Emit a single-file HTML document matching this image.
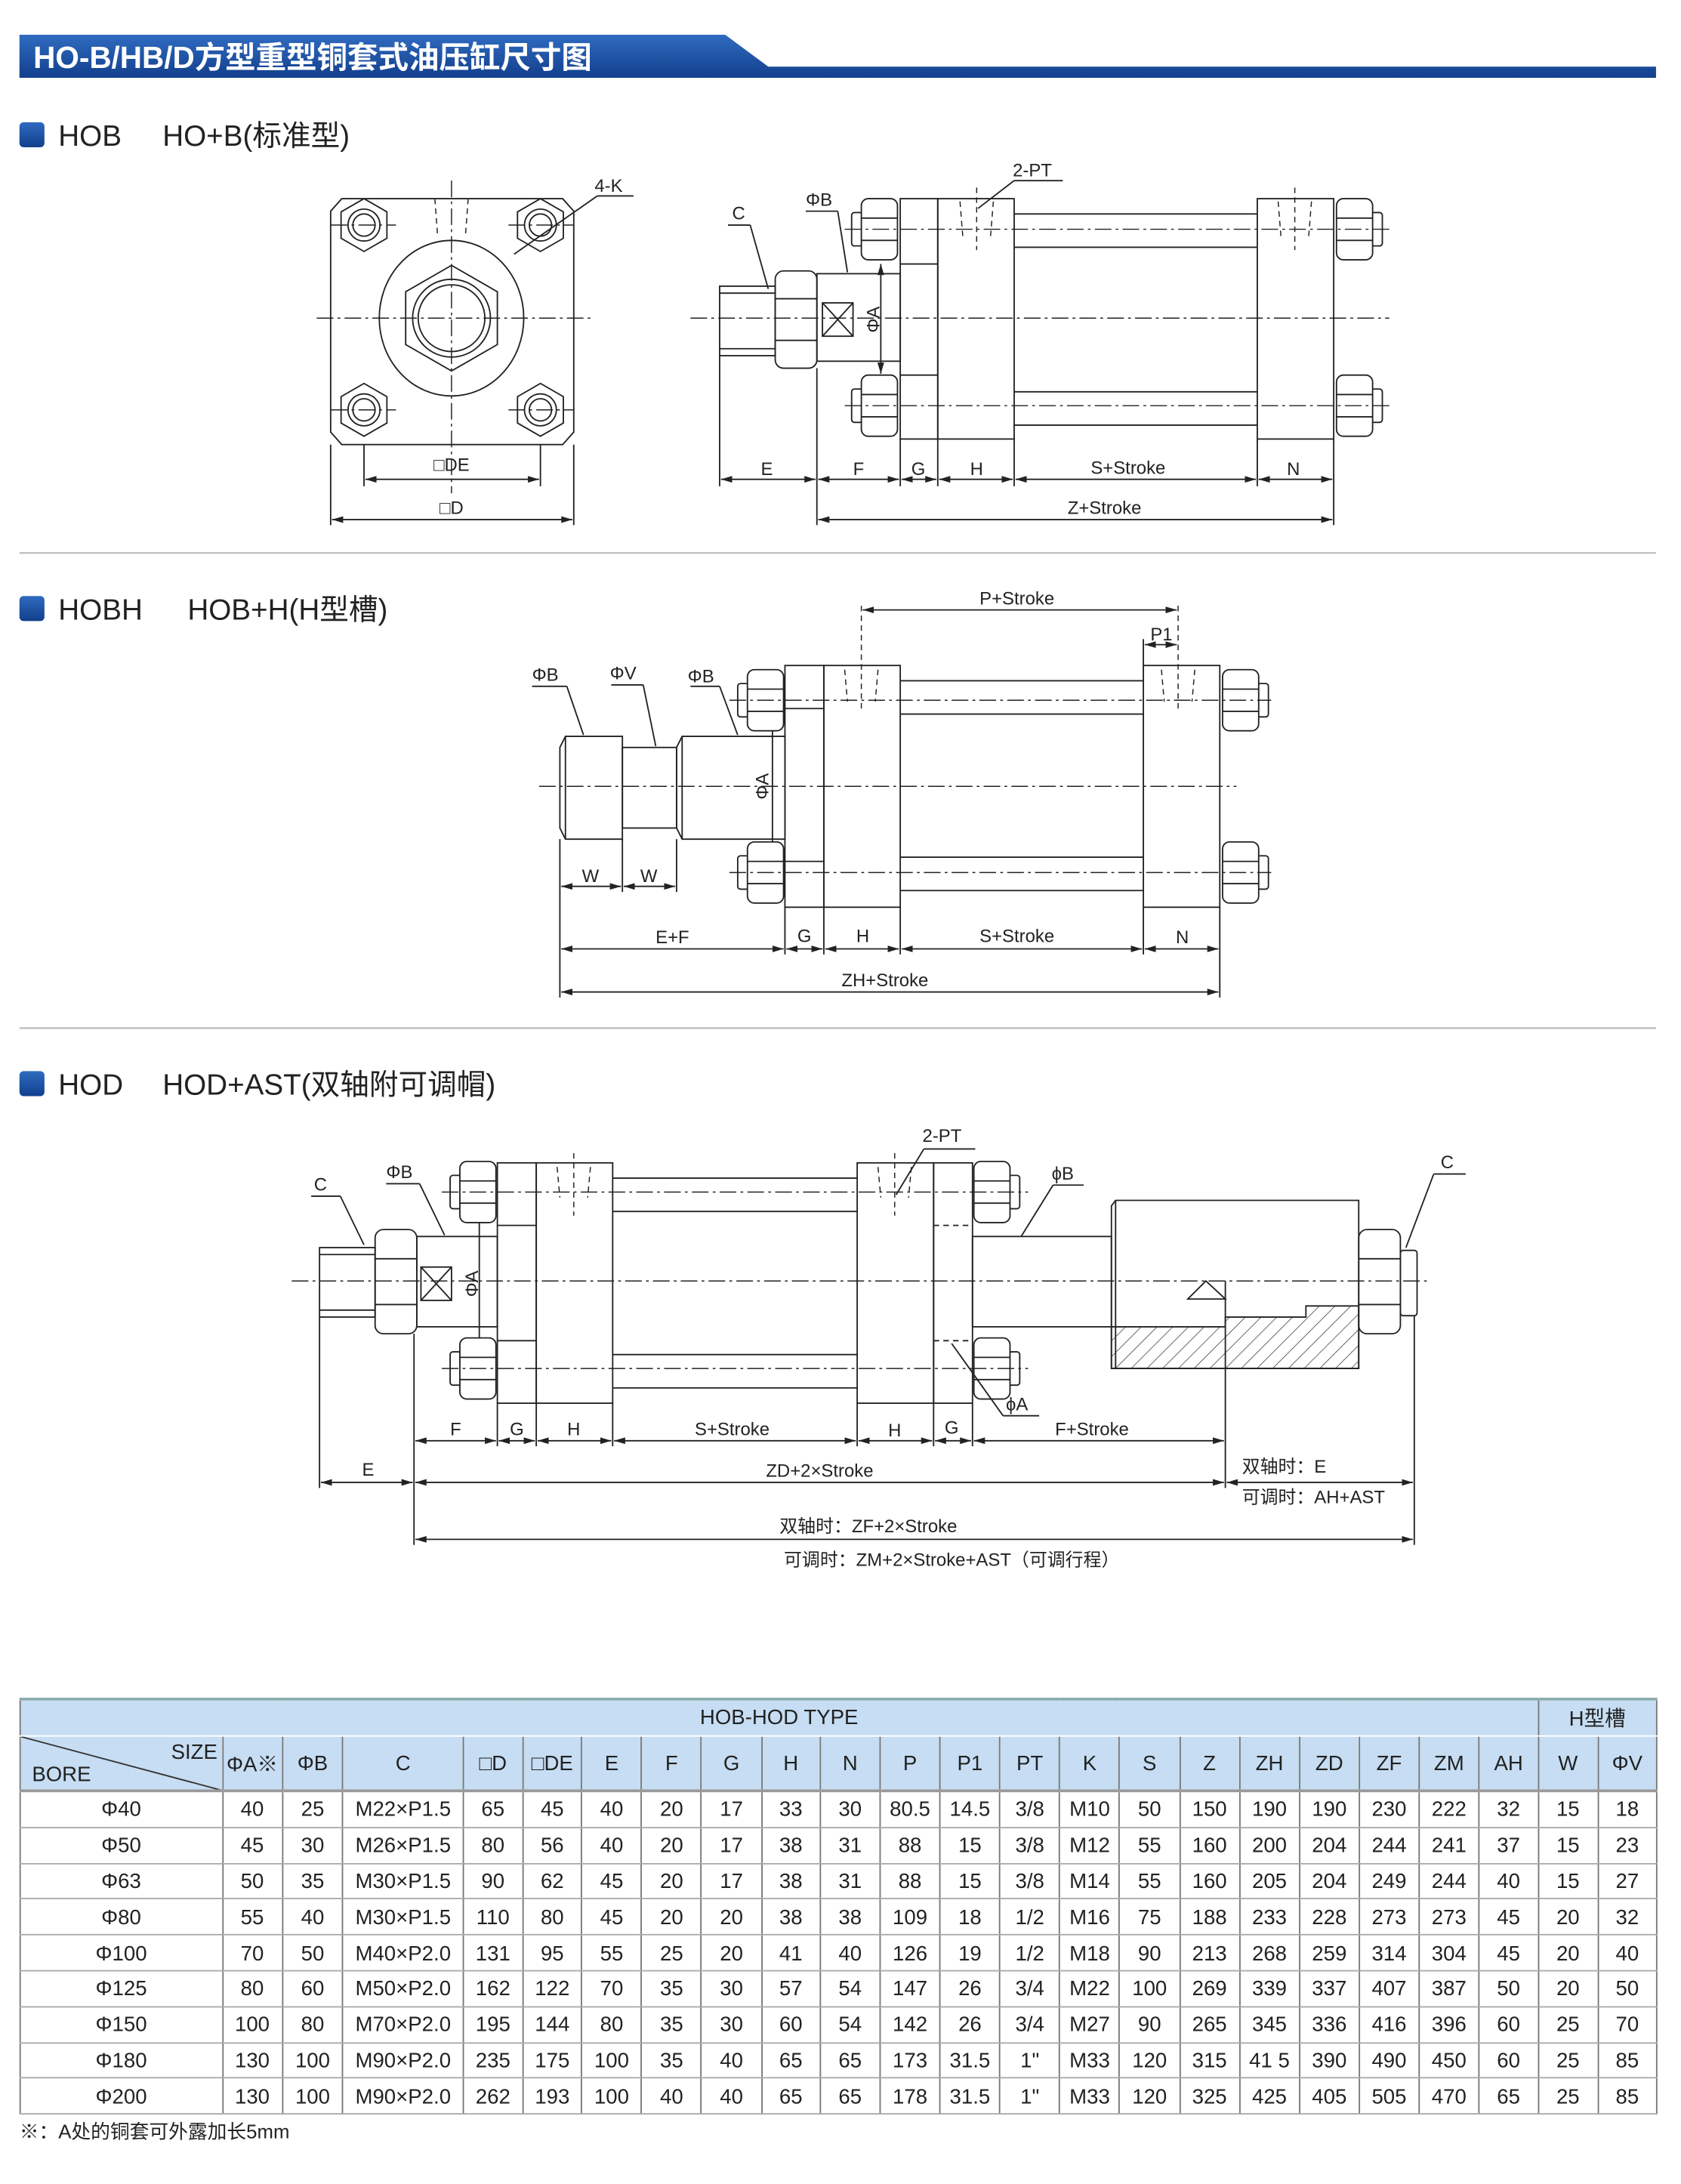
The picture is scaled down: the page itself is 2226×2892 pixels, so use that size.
<!DOCTYPE html>
<html><head><meta charset="utf-8">
<style>
html,body{margin:0;padding:0;background:#fff;}
body{width:2226px;height:2892px;overflow:hidden;position:relative;}
#wrap{position:absolute;left:0;top:0;width:1210px;height:1572px;transform:scale(1.8397);transform-origin:0 0;font-family:"Liberation Sans","Noto Sans CJK SC",sans-serif;}
svg{position:absolute;left:0;top:0;}
.t{font-family:"Liberation Sans","Noto Sans CJK SC",sans-serif;fill:#222;font-size:13px;}
.hd{font-family:"Liberation Sans","Noto Sans CJK SC",sans-serif;fill:#222;font-size:21px;}
table{position:absolute;left:14px;top:1222px;width:1178px;border-collapse:collapse;table-layout:fixed;font-size:15px;color:#222;}
td{text-align:center;padding:0;border-left:1px solid #777;border-right:1px solid #777;white-space:nowrap;overflow:hidden;}
tr.h1 td{background:#c6ddf3;height:25px;border-top:2px solid #8aa;border-bottom:1px solid #fff;}
tr.h2 td{background:#c6ddf3;height:38px;border-bottom:2px solid #999;}
tr.d td{height:23.8px;border-bottom:1.5px solid #aaa;padding-top:1px;}
</style></head><body><div id="wrap">
<svg width="1210" height="1572" viewBox="0 0 1210 1572">
<defs>
<linearGradient id="hg" x1="0" y1="0" x2="0" y2="1"><stop offset="0" stop-color="#2f6bc0"/><stop offset="1" stop-color="#123f8c"/></linearGradient>
<marker id="ar" viewBox="0 0 10 6" refX="10" refY="3" markerWidth="8" markerHeight="5" orient="auto-start-reverse"><path d="M0,0 L10,3 L0,6 Z" fill="#222"/></marker>
<pattern id="hatch" width="8" height="8" patternUnits="userSpaceOnUse" patternTransform="rotate(45)"><line x1="0" y1="0" x2="0" y2="8" stroke="#333" stroke-width="0.8"/></pattern>
<g id="nut" fill="#fff" stroke="#222" stroke-width="1">
<rect x="-20" y="-12" width="8" height="24" rx="2"/>
<rect x="-13" y="-22" width="26" height="44" rx="5"/>
<line x1="-13" y1="-8" x2="13" y2="-8"/><line x1="-13" y1="8" x2="13" y2="8"/>
</g>
<g id="bolt" fill="none" stroke="#222" stroke-width="1">
<polygon points="0,-19 16.5,-9.5 16.5,9.5 0,19 -16.5,9.5 -16.5,-9.5"/>
<circle r="11.5"/><circle r="8"/>
</g>
</defs>

<path d="M14,25 L522,25 L553,48 L1192,48 L1192,56 L14,56 Z" fill="url(#hg)"/>
<text x="24" y="49" fill="#fff" style="font-size:22px;font-weight:bold;font-family:'Liberation Sans','Noto Sans CJK SC',sans-serif">HO-B/HB/D方型重型铜套式油压缸尺寸图</text>

<rect x="14" y="88" width="18" height="18" rx="3" fill="url(#hg)"/>
<text x="42" y="105" class="hd">HOB</text><text x="117" y="105" class="hd">HO+B(标准型)</text>
<line x1="14" y1="398" x2="1192" y2="398" stroke="#bbb" stroke-width="1.2"/>
<rect x="14" y="429" width="18" height="18" rx="3" fill="url(#hg)"/>
<text x="42" y="446" class="hd">HOBH</text><text x="135" y="446" class="hd">HOB+H(H型槽)</text>
<line x1="14" y1="740" x2="1192" y2="740" stroke="#bbb" stroke-width="1.2"/>
<rect x="14" y="771" width="18" height="18" rx="3" fill="url(#hg)"/>
<text x="42" y="788" class="hd">HOD</text><text x="117" y="788" class="hd">HOD+AST(双轴附可调帽)</text>

<g fill="none" stroke="#222" stroke-width="1">
<polygon points="246,143 405,143 413,152 413,311 405,320 246,320 238,311 238,152"/>
<ellipse cx="325" cy="229" rx="52" ry="56"/>
<polygon points="325,191 358,210 358,248 325,267 292,248 292,210"/>
<circle cx="325" cy="229" r="28"/><circle cx="325" cy="229" r="24"/>
<use href="#bolt" x="262" y="162"/><use href="#bolt" x="389" y="162"/>
<use href="#bolt" x="262" y="295"/><use href="#bolt" x="389" y="295"/>
<g stroke-dasharray="12 3 2 3" stroke-width="0.8">
<line x1="228" y1="229" x2="425" y2="229"/><line x1="325" y1="130" x2="325" y2="355"/>
<line x1="238" y1="162" x2="285" y2="162"/><line x1="366" y1="162" x2="413" y2="162"/>
<line x1="238" y1="295" x2="285" y2="295"/><line x1="366" y1="295" x2="413" y2="295"/>
</g>
<g stroke-dasharray="4 3" stroke-width="0.8"><line x1="313" y1="143" x2="315" y2="170"/><line x1="337" y1="143" x2="335" y2="170"/></g>
<line x1="370" y1="183" x2="430" y2="141"/><line x1="430" y1="141" x2="456" y2="141"/>
<line x1="262" y1="320" x2="262" y2="350"/><line x1="389" y1="320" x2="389" y2="350"/>
<line x1="263" y1="345" x2="388" y2="345" marker-start="url(#ar)" marker-end="url(#ar)"/>
<line x1="238" y1="320" x2="238" y2="378"/><line x1="413" y1="320" x2="413" y2="378"/>
<line x1="239" y1="374" x2="412" y2="374" marker-start="url(#ar)" marker-end="url(#ar)"/>

<rect x="518" y="206" width="40" height="50"/>
<line x1="518" y1="211" x2="558" y2="211"/><line x1="518" y1="251" x2="558" y2="251"/>
<rect x="558" y="195" width="30" height="70" rx="6"/><line x1="558" y1="215" x2="588" y2="215"/><line x1="558" y1="245" x2="588" y2="245"/>
<rect x="588" y="197" width="60" height="63"/>
<rect x="592" y="218" width="22" height="24"/><line x1="592" y1="218" x2="614" y2="242"/><line x1="614" y1="218" x2="592" y2="242"/>
<line x1="634" y1="190" x2="634" y2="269" marker-start="url(#ar)" marker-end="url(#ar)"/>
<rect x="648" y="143" width="27" height="173"/><line x1="648" y1="190" x2="675" y2="190"/><line x1="648" y1="270" x2="675" y2="270"/>
<rect x="675" y="143" width="55" height="173"/>
<line x1="730" y1="154" x2="905" y2="154"/><line x1="730" y1="178" x2="905" y2="178"/>
<line x1="730" y1="282" x2="905" y2="282"/><line x1="730" y1="306" x2="905" y2="306"/>
<rect x="905" y="143" width="55" height="173"/>
<use href="#nut" x="633" y="165"/><use href="#nut" x="633" y="292"/>
<use href="#nut" transform="translate(975,165) scale(-1,1)"/><use href="#nut" transform="translate(975,292) scale(-1,1)"/>
<g stroke-dasharray="12 3 2 3" stroke-width="0.8">
<line x1="497" y1="229" x2="1000" y2="229"/><line x1="608" y1="165" x2="1000" y2="165"/><line x1="608" y1="292" x2="1000" y2="292"/>
</g>
<g stroke-dasharray="4 3" stroke-width="0.8">
<line x1="703" y1="135" x2="703" y2="180"/><line x1="932" y1="135" x2="932" y2="180"/>
<line x1="691" y1="145" x2="693" y2="170"/><line x1="715" y1="145" x2="713" y2="170"/>
<line x1="920" y1="145" x2="922" y2="170"/><line x1="944" y1="145" x2="942" y2="170"/>
</g>
<line x1="704" y1="150" x2="730" y2="130"/><line x1="730" y1="130" x2="765" y2="130"/>
<line x1="524" y1="162" x2="540" y2="162"/><line x1="540" y1="162" x2="553" y2="208"/>
<line x1="580" y1="152" x2="603" y2="152"/><line x1="603" y1="152" x2="610" y2="196"/>
<line x1="518" y1="256" x2="518" y2="350"/><line x1="588" y1="265" x2="588" y2="378"/>
<line x1="648" y1="316" x2="648" y2="350"/><line x1="675" y1="316" x2="675" y2="350"/>
<line x1="730" y1="316" x2="730" y2="350"/><line x1="905" y1="316" x2="905" y2="350"/>
<line x1="960" y1="316" x2="960" y2="378"/>
<line x1="519" y1="345" x2="587" y2="345" marker-start="url(#ar)" marker-end="url(#ar)"/>
<line x1="589" y1="345" x2="647" y2="345" marker-start="url(#ar)" marker-end="url(#ar)"/>
<line x1="649" y1="345" x2="674" y2="345" marker-start="url(#ar)" marker-end="url(#ar)"/>
<line x1="676" y1="345" x2="729" y2="345" marker-start="url(#ar)" marker-end="url(#ar)"/>
<line x1="731" y1="345" x2="904" y2="345" marker-start="url(#ar)" marker-end="url(#ar)"/>
<line x1="906" y1="345" x2="959" y2="345" marker-start="url(#ar)" marker-end="url(#ar)"/>
<line x1="589" y1="374" x2="959" y2="374" marker-start="url(#ar)" marker-end="url(#ar)"/>

<path d="M407,530 L448,530 L448,604 L407,604 L403,596 L403,538 Z"/>
<line x1="407" y1="530" x2="407" y2="604"/>
<rect x="448" y="538" width="39" height="58"/>
<path d="M491,530 L565,530 L565,604 L491,604 L487,596 L487,538 Z"/>
<line x1="491" y1="530" x2="491" y2="604"/>
<line x1="556" y1="512" x2="556" y2="618" marker-start="url(#ar)" marker-end="url(#ar)"/>
<rect x="565" y="479" width="28" height="174"/><line x1="565" y1="510" x2="593" y2="510"/><line x1="565" y1="620" x2="593" y2="620"/>
<rect x="593" y="479" width="55" height="174"/>
<line x1="648" y1="490" x2="823" y2="490"/><line x1="648" y1="514" x2="823" y2="514"/>
<line x1="648" y1="617" x2="823" y2="617"/><line x1="648" y1="641" x2="823" y2="641"/>
<rect x="823" y="479" width="55" height="174"/>
<use href="#nut" x="551" y="504"/><use href="#nut" x="551" y="628"/>
<use href="#nut" transform="translate(893,504) scale(-1,1)"/><use href="#nut" transform="translate(893,628) scale(-1,1)"/>
<g stroke-dasharray="12 3 2 3" stroke-width="0.8">
<line x1="388" y1="566" x2="890" y2="566"/><line x1="525" y1="504" x2="915" y2="504"/><line x1="525" y1="628" x2="915" y2="628"/>
</g>
<g stroke-dasharray="4 3" stroke-width="0.8">
<line x1="620" y1="436" x2="620" y2="510"/><line x1="848" y1="436" x2="848" y2="510"/>
<line x1="608" y1="482" x2="610" y2="505"/><line x1="632" y1="482" x2="630" y2="505"/>
<line x1="836" y1="482" x2="838" y2="505"/><line x1="860" y1="482" x2="858" y2="505"/>
</g>
<line x1="621" y1="439" x2="847" y2="439" marker-start="url(#ar)" marker-end="url(#ar)"/>
<line x1="823" y1="460" x2="823" y2="479"/>
<line x1="824" y1="464" x2="847" y2="464" marker-start="url(#ar)" marker-end="url(#ar)"/>
<line x1="383" y1="494" x2="408" y2="494"/><line x1="408" y1="494" x2="420" y2="529"/>
<line x1="440" y1="493" x2="463" y2="493"/><line x1="463" y1="493" x2="472" y2="537"/>
<line x1="497" y1="494" x2="518" y2="494"/><line x1="518" y1="494" x2="531" y2="529"/>
<line x1="403" y1="604" x2="403" y2="718"/><line x1="448" y1="604" x2="448" y2="642"/><line x1="487" y1="604" x2="487" y2="642"/>
<line x1="404" y1="638" x2="447" y2="638" marker-start="url(#ar)" marker-end="url(#ar)"/>
<line x1="449" y1="638" x2="486" y2="638" marker-start="url(#ar)" marker-end="url(#ar)"/>
<line x1="565" y1="653" x2="565" y2="687"/><line x1="593" y1="653" x2="593" y2="687"/><line x1="648" y1="653" x2="648" y2="687"/>
<line x1="823" y1="653" x2="823" y2="687"/><line x1="878" y1="653" x2="878" y2="718"/>
<line x1="404" y1="683" x2="564" y2="683" marker-start="url(#ar)" marker-end="url(#ar)"/>
<line x1="566" y1="683" x2="592" y2="683" marker-start="url(#ar)" marker-end="url(#ar)"/>
<line x1="594" y1="683" x2="647" y2="683" marker-start="url(#ar)" marker-end="url(#ar)"/>
<line x1="649" y1="683" x2="822" y2="683" marker-start="url(#ar)" marker-end="url(#ar)"/>
<line x1="824" y1="683" x2="877" y2="683" marker-start="url(#ar)" marker-end="url(#ar)"/>
<line x1="404" y1="714" x2="877" y2="714" marker-start="url(#ar)" marker-end="url(#ar)"/>

<rect x="230" y="898" width="40" height="50"/>
<line x1="230" y1="903" x2="270" y2="903"/><line x1="230" y1="943" x2="270" y2="943"/>
<rect x="270" y="885" width="30" height="75" rx="6"/><line x1="270" y1="906" x2="300" y2="906"/><line x1="270" y1="939" x2="300" y2="939"/>
<rect x="300" y="890" width="58" height="65"/>
<rect x="303" y="912" width="22" height="24"/><line x1="303" y1="912" x2="325" y2="936"/><line x1="325" y1="912" x2="303" y2="936"/>
<line x1="345" y1="842" x2="345" y2="1001" marker-start="url(#ar)" marker-end="url(#ar)"/>
<rect x="358" y="837" width="28" height="173"/><line x1="358" y1="882" x2="386" y2="882"/><line x1="358" y1="965" x2="386" y2="965"/>
<rect x="386" y="837" width="55" height="173"/>
<line x1="441" y1="848" x2="617" y2="848"/><line x1="441" y1="872" x2="617" y2="872"/>
<line x1="441" y1="975" x2="617" y2="975"/><line x1="441" y1="999" x2="617" y2="999"/>
<rect x="617" y="837" width="55" height="173"/>
<rect x="672" y="837" width="28" height="173"/>
<line x1="672" y1="882" x2="700" y2="882" stroke-dasharray="4 3"/><line x1="672" y1="965" x2="700" y2="965" stroke-dasharray="4 3"/>
<use href="#nut" x="344" y="858"/><use href="#nut" x="344" y="985"/>
<use href="#nut" transform="translate(714,858) scale(-1,1)"/><use href="#nut" transform="translate(714,985) scale(-1,1)"/>
<rect x="700" y="890" width="100" height="65"/>
<path d="M803,864 L978,864 L978,985 L800,985 L800,868 Z"/>
<line x1="803" y1="864" x2="803" y2="985"/>
<polygon points="800,955 882,955 882,948 940,948 940,940 978,940 978,985 800,985" fill="url(#hatch)"/>
<polyline points="882,922 882,948"/>
<polygon points="855,935 882,935 868,922"/>
<rect x="978" y="885" width="30" height="75" rx="6"/><line x1="978" y1="906" x2="1008" y2="906"/><line x1="978" y1="939" x2="1008" y2="939"/>
<rect x="1008" y="900" width="12" height="47" rx="2"/>
<g stroke-dasharray="12 3 2 3" stroke-width="0.8">
<line x1="210" y1="922" x2="1030" y2="922"/><line x1="318" y1="858" x2="740" y2="858"/><line x1="318" y1="985" x2="740" y2="985"/>
</g>
<g stroke-dasharray="4 3" stroke-width="0.8">
<line x1="413" y1="830" x2="413" y2="875"/><line x1="644" y1="830" x2="644" y2="875"/>
<line x1="401" y1="840" x2="403" y2="862"/><line x1="425" y1="840" x2="423" y2="862"/>
<line x1="632" y1="840" x2="634" y2="862"/><line x1="656" y1="840" x2="654" y2="862"/>
</g>
<line x1="224" y1="861" x2="245" y2="861"/><line x1="245" y1="861" x2="262" y2="896"/>
<line x1="278" y1="852" x2="302" y2="852"/><line x1="302" y1="852" x2="320" y2="889"/>
<line x1="645" y1="860" x2="665" y2="827"/><line x1="665" y1="827" x2="702" y2="827"/>
<line x1="758" y1="853" x2="780" y2="853"/><line x1="758" y1="853" x2="735" y2="890"/>
<line x1="1032" y1="845" x2="1055" y2="845"/><line x1="1032" y1="845" x2="1012" y2="898"/>
<line x1="685" y1="967" x2="722" y2="1019"/><line x1="722" y1="1019" x2="748" y2="1019"/>
<line x1="230" y1="948" x2="230" y2="1071"/><line x1="298" y1="960" x2="298" y2="1112"/>
<line x1="358" y1="1010" x2="358" y2="1041"/><line x1="386" y1="1010" x2="386" y2="1041"/><line x1="441" y1="1010" x2="441" y2="1041"/>
<line x1="617" y1="1010" x2="617" y2="1041"/><line x1="672" y1="1010" x2="672" y2="1041"/><line x1="700" y1="1010" x2="700" y2="1041"/>
<line x1="882" y1="948" x2="882" y2="1071"/><line x1="1018" y1="947" x2="1018" y2="1112"/>
<line x1="299" y1="1037" x2="357" y2="1037" marker-start="url(#ar)" marker-end="url(#ar)"/>
<line x1="359" y1="1037" x2="385" y2="1037" marker-start="url(#ar)" marker-end="url(#ar)"/>
<line x1="387" y1="1037" x2="440" y2="1037" marker-start="url(#ar)" marker-end="url(#ar)"/>
<line x1="442" y1="1037" x2="616" y2="1037" marker-start="url(#ar)" marker-end="url(#ar)"/>
<line x1="618" y1="1037" x2="671" y2="1037" marker-start="url(#ar)" marker-end="url(#ar)"/>
<line x1="673" y1="1037" x2="699" y2="1037" marker-start="url(#ar)" marker-end="url(#ar)"/>
<line x1="701" y1="1037" x2="881" y2="1037" marker-start="url(#ar)" marker-end="url(#ar)"/>
<line x1="231" y1="1067" x2="297" y2="1067" marker-start="url(#ar)" marker-end="url(#ar)"/>
<line x1="299" y1="1067" x2="881" y2="1067" marker-start="url(#ar)" marker-end="url(#ar)"/>
<line x1="883" y1="1067" x2="1017" y2="1067" marker-start="url(#ar)" marker-end="url(#ar)"/>
<line x1="299" y1="1108" x2="1017" y2="1108" marker-start="url(#ar)" marker-end="url(#ar)"/>
</g>

<g class="t">
<text x="428" y="138">4-K</text>
<text x="325" y="339" text-anchor="middle">□DE</text>
<text x="325" y="370" text-anchor="middle">□D</text>
<text x="527" y="158">C</text>
<text x="580" y="148">ΦB</text>
<text x="729" y="127">2-PT</text>
<text x="629" y="230" text-anchor="middle" transform="rotate(-90 629 230)" dy="4">ΦA</text>
<text x="552" y="342" text-anchor="middle">E</text>
<text x="618" y="342" text-anchor="middle">F</text>
<text x="661" y="342" text-anchor="middle">G</text>
<text x="703" y="342" text-anchor="middle">H</text>
<text x="812" y="341" text-anchor="middle">S+Stroke</text>
<text x="931" y="342" text-anchor="middle">N</text>
<text x="795" y="370" text-anchor="middle">Z+Stroke</text>
<text x="732" y="435" text-anchor="middle">P+Stroke</text>
<text x="836" y="461" text-anchor="middle">P1</text>
<text x="383" y="490">ΦB</text>
<text x="439" y="489">ΦV</text>
<text x="495" y="491">ΦB</text>
<text x="549" y="566" text-anchor="middle" transform="rotate(-90 549 566)" dy="4">ΦA</text>
<text x="425" y="635" text-anchor="middle">W</text>
<text x="467" y="635" text-anchor="middle">W</text>
<text x="484" y="679" text-anchor="middle">E+F</text>
<text x="579" y="678" text-anchor="middle">G</text>
<text x="621" y="678" text-anchor="middle">H</text>
<text x="732" y="678" text-anchor="middle">S+Stroke</text>
<text x="851" y="679" text-anchor="middle">N</text>
<text x="637" y="710" text-anchor="middle">ZH+Stroke</text>
<text x="226" y="857">C</text>
<text x="278" y="848">ΦB</text>
<text x="664" y="822">2-PT</text>
<text x="757" y="849">ϕB</text>
<text x="1037" y="841">C</text>
<text x="724" y="1015">ϕA</text>
<text x="340" y="924" text-anchor="middle" transform="rotate(-90 340 924)" dy="4">ΦA</text>
<text x="328" y="1033" text-anchor="middle">F</text>
<text x="372" y="1033" text-anchor="middle">G</text>
<text x="413" y="1033" text-anchor="middle">H</text>
<text x="527" y="1033" text-anchor="middle">S+Stroke</text>
<text x="644" y="1034" text-anchor="middle">H</text>
<text x="685" y="1032" text-anchor="middle">G</text>
<text x="786" y="1033" text-anchor="middle">F+Stroke</text>
<text x="265" y="1062" text-anchor="middle">E</text>
<text x="590" y="1063" text-anchor="middle">ZD+2×Stroke</text>
<text x="894" y="1060">双轴时：E</text>
<text x="894" y="1082">可调时：AH+AST</text>
<text x="625" y="1103" text-anchor="middle">双轴时：ZF+2×Stroke</text>
<text x="685" y="1127" text-anchor="middle">可调时：ZM+2×Stroke+AST（可调行程）</text>
</g>
<text x="14" y="1539" class="t" style="font-size:14px">※：A处的铜套可外露加长5mm</text>
</svg>

<table>
<colgroup>
<col style="width:145.5px"><col style="width:43.1px"><col style="width:43.9px"><col style="width:86.3px"><col style="width:43.1px"><col style="width:42.3px"><col style="width:43.2px"><col style="width:43.1px"><col style="width:43.1px"><col style="width:42.4px"><col style="width:43px"><col style="width:43.2px"><col style="width:43.1px"><col style="width:43.1px"><col style="width:43.1px"><col style="width:43.1px"><col style="width:43.2px"><col style="width:43.1px"><col style="width:43.1px"><col style="width:43px"><col style="width:43.3px"><col style="width:42.3px"><col style="width:43.1px"><col style="width:42.3px">
</colgroup>
<tr class="h1"><td colspan="22">HOB-HOD TYPE</td><td colspan="2">H型槽</td></tr>
<tr class="h2"><td style="position:relative;text-align:left;"><svg width="146" height="39" style="position:absolute;left:0;top:0"><line x1="0" y1="0" x2="146" y2="39" stroke="#333" stroke-width="1"/></svg><span style="position:absolute;right:3px;top:3px;">SIZE</span><span style="position:absolute;left:8px;bottom:2px;">BORE</span></td><td>ΦA※</td><td>ΦB</td><td>C</td><td>□D</td><td>□DE</td><td>E</td><td>F</td><td>G</td><td>H</td><td>N</td><td>P</td><td>P1</td><td>PT</td><td>K</td><td>S</td><td>Z</td><td>ZH</td><td>ZD</td><td>ZF</td><td>ZM</td><td>AH</td><td>W</td><td>ΦV</td></tr>
<tr class="d"><td>Φ40</td><td>40</td><td>25</td><td>M22×P1.5</td><td>65</td><td>45</td><td>40</td><td>20</td><td>17</td><td>33</td><td>30</td><td>80.5</td><td>14.5</td><td>3/8</td><td>M10</td><td>50</td><td>150</td><td>190</td><td>190</td><td>230</td><td>222</td><td>32</td><td>15</td><td>18</td></tr>
<tr class="d"><td>Φ50</td><td>45</td><td>30</td><td>M26×P1.5</td><td>80</td><td>56</td><td>40</td><td>20</td><td>17</td><td>38</td><td>31</td><td>88</td><td>15</td><td>3/8</td><td>M12</td><td>55</td><td>160</td><td>200</td><td>204</td><td>244</td><td>241</td><td>37</td><td>15</td><td>23</td></tr>
<tr class="d"><td>Φ63</td><td>50</td><td>35</td><td>M30×P1.5</td><td>90</td><td>62</td><td>45</td><td>20</td><td>17</td><td>38</td><td>31</td><td>88</td><td>15</td><td>3/8</td><td>M14</td><td>55</td><td>160</td><td>205</td><td>204</td><td>249</td><td>244</td><td>40</td><td>15</td><td>27</td></tr>
<tr class="d"><td>Φ80</td><td>55</td><td>40</td><td>M30×P1.5</td><td>110</td><td>80</td><td>45</td><td>20</td><td>20</td><td>38</td><td>38</td><td>109</td><td>18</td><td>1/2</td><td>M16</td><td>75</td><td>188</td><td>233</td><td>228</td><td>273</td><td>273</td><td>45</td><td>20</td><td>32</td></tr>
<tr class="d"><td>Φ100</td><td>70</td><td>50</td><td>M40×P2.0</td><td>131</td><td>95</td><td>55</td><td>25</td><td>20</td><td>41</td><td>40</td><td>126</td><td>19</td><td>1/2</td><td>M18</td><td>90</td><td>213</td><td>268</td><td>259</td><td>314</td><td>304</td><td>45</td><td>20</td><td>40</td></tr>
<tr class="d"><td>Φ125</td><td>80</td><td>60</td><td>M50×P2.0</td><td>162</td><td>122</td><td>70</td><td>35</td><td>30</td><td>57</td><td>54</td><td>147</td><td>26</td><td>3/4</td><td>M22</td><td>100</td><td>269</td><td>339</td><td>337</td><td>407</td><td>387</td><td>50</td><td>20</td><td>50</td></tr>
<tr class="d"><td>Φ150</td><td>100</td><td>80</td><td>M70×P2.0</td><td>195</td><td>144</td><td>80</td><td>35</td><td>30</td><td>60</td><td>54</td><td>142</td><td>26</td><td>3/4</td><td>M27</td><td>90</td><td>265</td><td>345</td><td>336</td><td>416</td><td>396</td><td>60</td><td>25</td><td>70</td></tr>
<tr class="d"><td>Φ180</td><td>130</td><td>100</td><td>M90×P2.0</td><td>235</td><td>175</td><td>100</td><td>35</td><td>40</td><td>65</td><td>65</td><td>173</td><td>31.5</td><td>1"</td><td>M33</td><td>120</td><td>315</td><td>41 5</td><td>390</td><td>490</td><td>450</td><td>60</td><td>25</td><td>85</td></tr>
<tr class="d"><td>Φ200</td><td>130</td><td>100</td><td>M90×P2.0</td><td>262</td><td>193</td><td>100</td><td>40</td><td>40</td><td>65</td><td>65</td><td>178</td><td>31.5</td><td>1"</td><td>M33</td><td>120</td><td>325</td><td>425</td><td>405</td><td>505</td><td>470</td><td>65</td><td>25</td><td>85</td></tr>
</table>
</div></body></html>
